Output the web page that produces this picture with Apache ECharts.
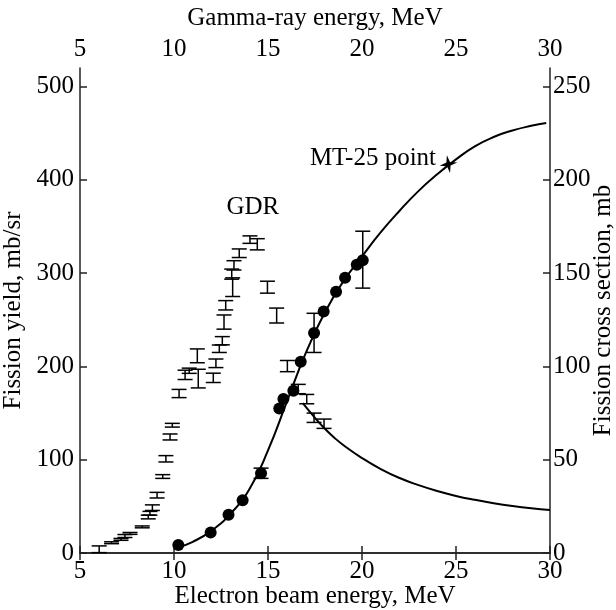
<!DOCTYPE html>
<html>
<head>
<meta charset="utf-8">
<script src="https://cdn.jsdelivr.net/npm/echarts@6/dist/echarts.min.js"></script>
<style>
  html, body { margin: 0; padding: 0; background: #fff; }
  #chart { width: 616px; height: 610px; }
</style>
</head>
<body>
<div id="chart"></div>
<script>
// Measured fission yield (mb/sr) vs electron beam energy (MeV)
const yieldEnergy = [10.23, 11.95, 12.9, 13.65, 14.63, 15.6, 15.82, 16.35, 16.74, 17.45, 17.96, 18.62, 19.1, 19.72, 20.04];
const yieldValue  = [8.6, 22, 41, 56.5, 85.5, 155, 165, 174, 205, 236, 259, 280, 295, 309, 314];

// Error bars on selected yield points
const yieldErrEnergy = [14.63, 17.45, 20.04];
const yieldErrLow    = [80, 215, 284];
const yieldErrHigh   = [91, 257, 345];

// Calculated yield curve (mb/sr)
const fitEnergy = [10.2, 11, 12, 13, 14, 15, 16, 17, 18, 19, 20, 21, 22, 23, 24, 25, 26, 27, 28, 29, 29.8];
const fitYield  = [6, 12, 24, 42, 68, 110, 162, 214, 257, 291, 318, 344, 367, 388, 406, 422, 436, 446, 453, 458, 461];

// Photofission cross section tail above the GDR (mb)
const tailEnergy = [16.85, 17.5, 18, 18.5, 19, 20, 21, 22, 23, 24, 25, 26, 27, 28, 29, 30];
const tailXs     = [80.3, 72.4, 66.9, 62.1, 57.9, 50.9, 45, 40.2, 36.4, 33.2, 30.6, 28.5, 26.7, 25.2, 24.0, 23.1];

// Photofission cross section in the GDR region (mb) with uncertainties
const gdrEnergy = [6.02, 6.68, 7.18, 7.39, 7.66, 8.31, 8.63, 8.72, 8.85, 9.1, 9.4, 9.57, 9.79, 9.91, 10.27, 10.59, 10.81, 11.24, 11.29, 12.09, 12.23, 12.41, 12.57, 12.66, 12.75, 13.07, 13.12, 13.19, 13.47, 14.04, 14.43, 14.97, 15.46, 16.03, 16.61, 17.06, 17.45, 17.98];
const gdrXs     = [2.0, 5.5, 7.3, 9.1, 10.5, 14, 19.3, 21.3, 24.3, 31, 41, 50.5, 62.2, 68.5, 85.5, 95.5, 97.7, 105.7, 93.5, 93.9, 101.7, 109.5, 113.8, 123.8, 132.8, 149.5, 142.5, 154.2, 160.7, 168, 165.5, 142.5, 127.3, 100.2, 87.9, 82.5, 72.5, 69.3];
const gdrErr    = [1.8, 0.5, 0.5, 0.8, 0.5, 0.5, 1, 1, 1.5, 1.5, 1, 1.7, 1.6, 1, 2.2, 2.5, 1.4, 3.7, 5, 2.5, 2.3, 2, 2.2, 3.8, 2.5, 2.7, 5, 2.5, 2.3, 2, 3, 3.2, 4, 3, 2.5, 2.5, 2.5, 2.5];

// MT-25 microtron reference point
const mt25Point = [24.6, 417];
// Position of the GDR annotation
const gdrLabelPoint = [14.19, 370];

// Axis ticks
const energyTicks = [5, 10, 15, 20, 25, 30];
const yieldTicks  = [0, 100, 200, 300, 400, 500];
const xsTicks     = [0, 50, 100, 150, 200, 250];

const FONT = 'Liberation Serif';
const INK = '#000';

const chart = echarts.init(document.getElementById('chart'), null, { renderer: 'canvas' });

function errorBar(params, api) {
  const x = api.value(0);
  const lo = api.value(1);
  const hi = api.value(2);
  const pLo = api.coord([x, lo]);
  const pHi = api.coord([x, hi]);
  const hw = 7.5;
  const style = { stroke: INK, lineWidth: 1.5, fill: null };
  return {
    type: 'group',
    children: [
      { type: 'line', shape: { x1: pLo[0], y1: pLo[1], x2: pHi[0], y2: pHi[1] }, style },
      { type: 'line', shape: { x1: pLo[0] - hw, y1: pLo[1], x2: pLo[0] + hw, y2: pLo[1] }, style },
      { type: 'line', shape: { x1: pHi[0] - hw, y1: pHi[1], x2: pHi[0] + hw, y2: pHi[1] }, style }
    ]
  };
}

const axisLineStyle = { show: true, lineStyle: { color: '#222', width: 1.5 } };
const tickStyle = { show: true, inside: true, length: 7, lineStyle: { color: '#222', width: 1.5 } };
const labelFont = { fontFamily: FONT, fontSize: 25, color: INK };
const nameFont = { fontFamily: FONT, fontSize: 25, color: INK };

const option = {
  backgroundColor: '#fff',
  animation: false,
  grid: { left: 80, right: 66, top: 68, bottom: 57, containLabel: false, outerBoundsMode: 'none' },
  xAxis: [
    {
      type: 'value', position: 'bottom', min: 5, max: 30, interval: 5,
      name: 'Electron beam energy, MeV', nameLocation: 'middle', nameGap: 31, nameMoveOverlap: false,
      nameTextStyle: nameFont,
      axisLine: axisLineStyle, axisTick: tickStyle,
      axisLabel: Object.assign({ margin: 6, customValues: energyTicks }, labelFont),
      splitLine: { show: false }
    },
    {
      type: 'value', position: 'top', min: 5, max: 30, interval: 5,
      name: 'Gamma-ray energy, MeV', nameLocation: 'middle', nameGap: 37, nameMoveOverlap: false,
      nameTextStyle: nameFont,
      axisLine: axisLineStyle, axisTick: tickStyle,
      axisLabel: Object.assign({ margin: 6, customValues: energyTicks }, labelFont),
      splitLine: { show: false }
    }
  ],
  yAxis: [
    {
      type: 'value', position: 'left', min: 0, max: 520,
      name: 'Fission yield, mb/sr', nameLocation: 'middle', nameGap: 54, nameRotate: 90, nameMoveOverlap: false,
      nameTextStyle: nameFont,
      axisLine: axisLineStyle,
      axisTick: Object.assign({}, tickStyle, { customValues: yieldTicks }),
      axisLabel: Object.assign({ margin: 6, customValues: yieldTicks }, labelFont),
      splitLine: { show: false }
    },
    {
      type: 'value', position: 'right', min: 0, max: 260,
      name: 'Fission cross section, mb', nameLocation: 'middle', nameGap: 41, nameRotate: 90, nameMoveOverlap: false,
      nameTextStyle: nameFont,
      axisLine: axisLineStyle,
      axisTick: Object.assign({}, tickStyle, { customValues: xsTicks }),
      axisLabel: Object.assign({ margin: 3, customValues: xsTicks }, labelFont),
      splitLine: { show: false }
    }
  ],
  series: [
    {
      name: 'yield fit', type: 'line', xAxisIndex: 0, yAxisIndex: 0,
      data: fitEnergy.map((e, i) => [e, fitYield[i]]),
      smooth: 0.5, showSymbol: false, symbol: 'none',
      lineStyle: { color: INK, width: 2 }, z: 3
    },
    {
      name: 'cross section tail', type: 'line', xAxisIndex: 0, yAxisIndex: 1,
      data: tailEnergy.map((e, i) => [e, tailXs[i]]),
      smooth: 0.5, showSymbol: false, symbol: 'none',
      lineStyle: { color: INK, width: 2 }, z: 3
    },
    {
      name: 'GDR', type: 'custom', xAxisIndex: 0, yAxisIndex: 1,
      renderItem: errorBar,
      encode: { x: 0, y: [1, 2] },
      data: gdrEnergy.map((e, i) => [e, gdrXs[i] - gdrErr[i], gdrXs[i] + gdrErr[i]]),
      z: 4
    },
    {
      name: 'yield errors', type: 'custom', xAxisIndex: 0, yAxisIndex: 0,
      renderItem: errorBar,
      encode: { x: 0, y: [1, 2] },
      data: yieldErrEnergy.map((e, i) => [e, yieldErrLow[i], yieldErrHigh[i]]),
      z: 4
    },
    {
      name: 'yield', type: 'scatter', xAxisIndex: 0, yAxisIndex: 0,
      data: yieldEnergy.map((e, i) => [e, yieldValue[i]]),
      symbol: 'circle', symbolSize: 12,
      itemStyle: { color: INK, opacity: 1 }, z: 5
    },
    {
      name: 'MT-25', type: 'scatter', xAxisIndex: 0, yAxisIndex: 0,
      data: [mt25Point],
      symbol: 'path://M0,-10 L2,-2 L10,0 L2,2 L0,10 L-2,2 L-10,0 L-2,-2 Z',
      symbolSize: 18, symbolRotate: 10,
      itemStyle: { color: INK, opacity: 1 },
      label: {
        show: true, position: 'left', distance: 2, offset: [0, -6],
        formatter: 'MT-25 point', fontFamily: FONT, fontSize: 25, color: INK
      },
      z: 6
    },
    {
      name: 'GDR label', type: 'scatter', xAxisIndex: 0, yAxisIndex: 0,
      data: [gdrLabelPoint], symbol: 'circle', symbolSize: 1,
      itemStyle: { color: 'rgba(0,0,0,0)', opacity: 1 },
      label: {
        show: true, position: 'inside', formatter: 'GDR',
        fontFamily: FONT, fontSize: 25, color: INK
      },
      silent: true, z: 6
    }
  ]
};

chart.setOption(option);
</script>
</body>
</html>
